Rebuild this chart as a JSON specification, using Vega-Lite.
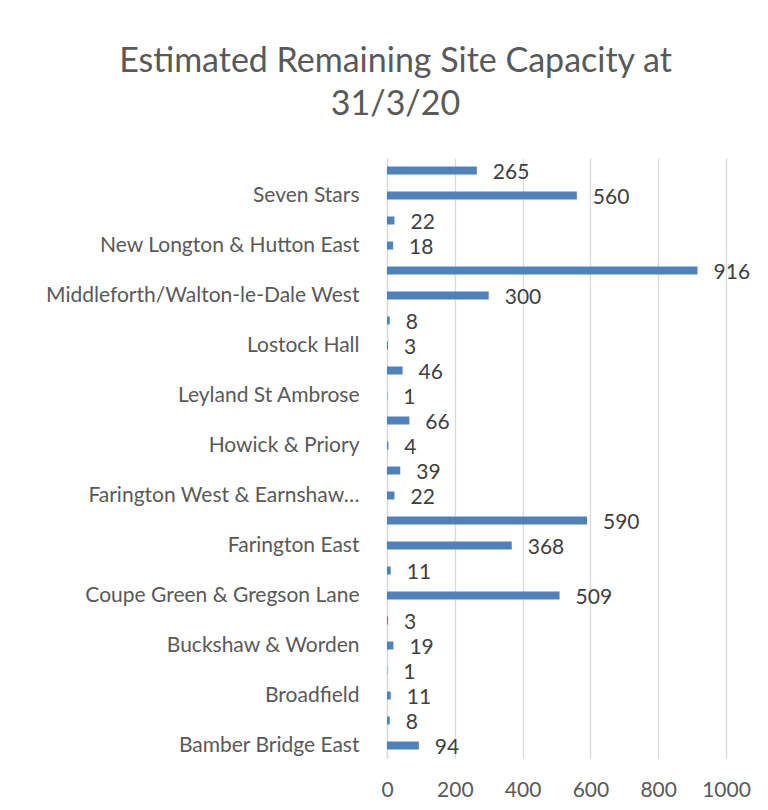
{
  "$schema": "https://vega.github.io/schema/vega-lite/v6.json",
  "width": 339,
  "height": 600,
  "autosize": "none",
  "padding": {"left": 387, "top": 158, "right": 42, "bottom": 52},
  "background": "white",
  "config": {"view": {"stroke": null}, "font": "Lato"},
  "title": {
    "text": ["Estimated Remaining Site Capacity at", "31/3/20"],
    "fontSize": 34,
    "lineHeight": 43,
    "font": "Lato",
    "fontWeight": "normal",
    "color": "#595959",
    "anchor": "middle",
    "dx": -161,
    "offset": 36
  },
  "data": {
    "values": [
      {"ward": "Walton-le-Dale East", "capacity": 265},
      {"ward": "Seven Stars", "capacity": 560},
      {"ward": "Samlesbury & Walton", "capacity": 22},
      {"ward": "New Longton & Hutton East", "capacity": 18},
      {"ward": "Moss Side", "capacity": 916},
      {"ward": "Middleforth/Walton-le-Dale West", "capacity": 300},
      {"ward": "Middleforth", "capacity": 8},
      {"ward": "Lostock Hall", "capacity": 3},
      {"ward": "Longton & Hutton West", "capacity": 46},
      {"ward": "Leyland St Ambrose", "capacity": 1},
      {"ward": "Leyland Central", "capacity": 66},
      {"ward": "Howick & Priory", "capacity": 4},
      {"ward": "Hoole", "capacity": 39},
      {"ward": "Farington West & Earnshaw Bridge", "capacity": 22},
      {"ward": "Farington West", "capacity": 590},
      {"ward": "Farington East", "capacity": 368},
      {"ward": "Earnshaw Bridge", "capacity": 11},
      {"ward": "Coupe Green & Gregson Lane", "capacity": 509},
      {"ward": "Charnock", "capacity": 3},
      {"ward": "Buckshaw & Worden", "capacity": 19},
      {"ward": "Broad Oak", "capacity": 1},
      {"ward": "Broadfield", "capacity": 11},
      {"ward": "Bamber Bridge West", "capacity": 8},
      {"ward": "Bamber Bridge East", "capacity": 94}
    ]
  },
  "encoding": {
    "y": {
      "field": "ward",
      "type": "nominal",
      "sort": ["Walton-le-Dale East", "Seven Stars", "Samlesbury & Walton", "New Longton & Hutton East", "Moss Side", "Middleforth/Walton-le-Dale West", "Middleforth", "Lostock Hall", "Longton & Hutton West", "Leyland St Ambrose", "Leyland Central", "Howick & Priory", "Hoole", "Farington West & Earnshaw Bridge", "Farington West", "Farington East", "Earnshaw Bridge", "Coupe Green & Gregson Lane", "Charnock", "Buckshaw & Worden", "Broad Oak", "Broadfield", "Bamber Bridge West", "Bamber Bridge East"],
      "scale": {"paddingInner": 0.68, "paddingOuter": 0.34},
      "axis": {
        "title": null,
        "values": ["Seven Stars", "New Longton & Hutton East", "Middleforth/Walton-le-Dale West", "Lostock Hall", "Leyland St Ambrose", "Howick & Priory", "Farington West & Earnshaw Bridge", "Farington East", "Coupe Green & Gregson Lane", "Buckshaw & Worden", "Broadfield", "Bamber Bridge East"],
        "labelExpr": "datum.label == 'Farington West & Earnshaw Bridge' ? 'Farington West & Earnshaw…' : datum.label",
        "ticks": false,
        "domain": true,
        "domainColor": "#d9d9d9",
        "domainWidth": 1.3,
        "labelPadding": 28,
        "labelFontSize": 21,
        "labelColor": "#595959",
        "labelFont": "Lato",
        "labelLimit": 400,
        "labelOverlap": false,
        "grid": false
      }
    }
  },
  "layer": [
    {
      "mark": {"type": "bar", "color": "#4f81bd"},
      "encoding": {
        "x": {
          "field": "capacity",
          "type": "quantitative",
          "scale": {"domain": [0, 1000], "nice": false},
          "axis": {
            "title": null,
            "values": [0, 200, 400, 600, 800, 1000],
            "format": "d",
            "grid": true,
            "gridColor": "#d9d9d9",
            "gridWidth": 1.3,
            "domain": false,
            "ticks": false,
            "labelOverlap": false,
            "labelFlush": false,
            "labelPadding": 21,
            "labelFontSize": 21,
            "labelColor": "#595959",
            "labelFont": "Lato"
          }
        }
      }
    },
    {
      "mark": {"type": "text", "align": "left", "baseline": "middle", "dx": 16, "dy": 2, "fontSize": 21, "font": "Lato", "color": "#404040"},
      "encoding": {
        "x": {"field": "capacity", "type": "quantitative"},
        "text": {"field": "capacity", "type": "quantitative"}
      }
    }
  ]
}
